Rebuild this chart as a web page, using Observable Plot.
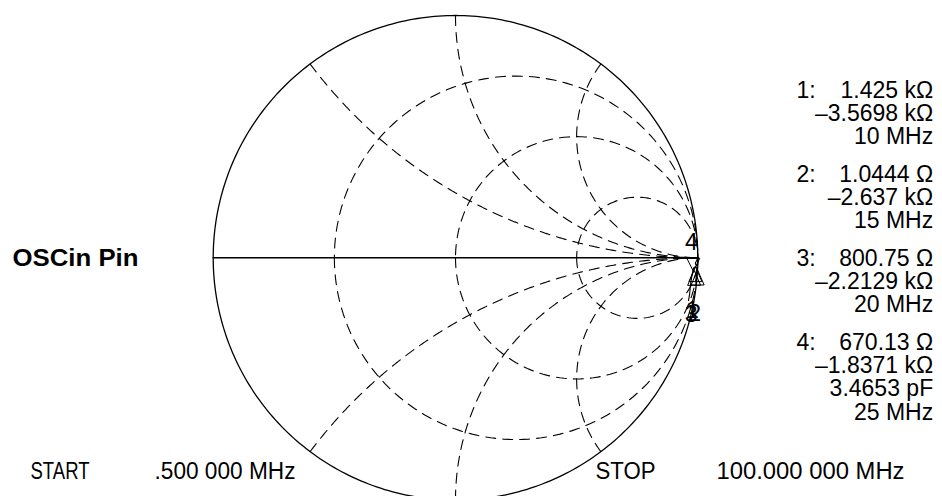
<!DOCTYPE html>
<html>
<head>
<meta charset="utf-8">
<script src="https://cdn.jsdelivr.net/npm/d3@7"></script>
<script src="https://cdn.jsdelivr.net/npm/@observablehq/plot@0.6"></script>
<style>
  html, body { margin: 0; padding: 0; background: #fff; }
  #chart svg { display: block; }
</style>
</head>
<body>
<div id="chart"></div>
<script>
// Reference impedance (Ω) used to normalise the Smith chart
const z0 = 50;

// Graticule: constant-resistance circles and constant-reactance arcs (normalised)
const resistanceCircles = [1 / 3, 1, 3];
const reactanceArcs = [0.5, 1, 2, -0.5, -1, -2];

// Swept input impedance of the pin, 0.5 MHz to 100 MHz (Ω)
const traceFreqMHz = [0.5, 2, 5, 10, 15, 20, 25, 40, 60, 80, 100];
const traceR = [30000, 9000, 2900, 1425, 1.0444, 800.75, 670.13, 330, 160, 95, 68];
const traceX = [-75000, -19000, -7400, -3569.8, -2637, -2212.9, -1837.1, -1180, -800, -640, -541];

// Marker readouts
const markerIds = [1, 2, 3, 4];
const markerFreqMHz = [10, 15, 20, 25];
const markerR = [1425, 1.0444, 800.75, 670.13];
const markerX = [-3569.8, -2637, -2212.9, -1837.1];
const markerCpF = [null, null, null, 3.4653];

// Annotation text
const title = "OSCin Pin";
const startLabel = "START";
const startValue = ".500 000 MHz";
const stopLabel = "STOP";
const stopValue = "100.000 000 MHz";

// ---- layout ----
const W = 942, H = 496;
const cx = 455, cy = 257.3, rad = 242.3;   // chart centre and radius in pixels
const font = "'Liberation Sans', Arial, Helvetica, sans-serif";

// reflection coefficient from an impedance in ohms
function gamma(R, X) {
  const r = R / z0, x = X / z0;
  const d = (r + 1) ** 2 + x ** 2;
  return [(r * r + x * x - 1) / d, (2 * x) / d];
}

// grid paths in the Γ plane
const grid = [];
resistanceCircles.forEach((r, i) => {
  const c = r / (1 + r), p = 1 / (1 + r);
  for (let a = 0; a <= 360; a += 2) {
    const t = Math.PI + (a * Math.PI) / 180;
    grid.push({id: "r" + i, u: c + p * Math.cos(t), v: p * Math.sin(t)});
  }
});
reactanceArcs.forEach((x, i) => {
  for (let k = 0; k < 300; k++) {
    const r = Math.tan((k / 300) * (Math.PI / 2));
    const [u, v] = gamma(r * z0, x * z0);
    grid.push({id: "x" + i, u, v});
  }
  grid.push({id: "x" + i, u: 1, v: 0});
});

const outer = d3.range(0, 361, 1).map(a => ({u: Math.cos(a * Math.PI / 180), v: Math.sin(a * Math.PI / 180)}));
const axisLine = [{u: -1, v: 0}, {u: 1, v: 0}];

const trace = traceFreqMHz.map((f, i) => {
  const [u, v] = gamma(traceR[i], traceX[i]);
  return {f, u, v};
});

const markers = markerIds.map((id, i) => {
  const [u, v] = gamma(markerR[i], markerX[i]);
  return {id, u, v};
});

// marker symbols: Δ hanging below the point, ∇ resting above it
const deltaUp = {draw(ctx) { ctx.moveTo(0, 3); ctx.lineTo(6.5, 18); ctx.lineTo(-6.5, 18); ctx.closePath(); }};
const deltaDown = {draw(ctx) { ctx.moveTo(0, 2); ctx.lineTo(6.5, -11); ctx.lineTo(-6.5, -11); ctx.closePath(); }};

// readout text
const fmt = d3.format(".5~g");
function ohms(v) {
  const a = Math.abs(v);
  const s = a >= 1000 ? fmt(a / 1000) + " kΩ" : fmt(a) + " Ω";
  return (v < 0 ? "–" : "") + s;
}
const readouts = markerIds.map((id, i) => {
  const lines = [ohms(markerR[i]), ohms(markerX[i])];
  if (markerCpF[i] != null) lines.push(fmt(markerCpF[i]) + " pF");
  lines.push(markerFreqMHz[i] + " MHz");
  return {id, lines};
});

const groupTop = 90, groupStep = 84, lineStep = 23.3;
const readoutMarks = [];
readouts.forEach((g, i) => {
  readoutMarks.push(Plot.text([g.id + ":"], {
    frameAnchor: "top-left", dx: 796, dy: groupTop + i * groupStep,
    lineAnchor: "middle", fontSize: 23, fill: "black"
  }));
  g.lines.forEach((line, j) => {
    readoutMarks.push(Plot.text([line], {
      frameAnchor: "top-right", dx: -9.3, dy: groupTop + i * groupStep + j * lineStep,
      lineAnchor: "middle", fontSize: 23, fill: "black"
    }));
  });
});

const footer = [
  {text: startLabel, left: 30, width: 59},
  {text: startValue, left: 154, width: 141},
  {text: stopLabel, left: 595, width: 60},
  {text: stopValue, left: 716, width: 188}
];
const footerMarks = footer.map(d => Plot.text([d.text], {
  frameAnchor: "top-left", dx: d.left, dy: 471.5, lineAnchor: "middle", fontSize: 23, fill: "black"
}));

const chart = Plot.plot({
  width: W,
  height: H,
  margin: 0,
  style: {fontFamily: font, background: "white", color: "black"},
  x: {domain: [-cx / rad, (W - cx) / rad], axis: null},
  y: {domain: [(cy - H) / rad, cy / rad], axis: null},
  marks: [
    Plot.line(grid, {x: "u", y: "v", z: "id", stroke: "black", strokeWidth: 1.1, strokeDasharray: "10,7"}),
    Plot.line(outer, {x: "u", y: "v", stroke: "black", strokeWidth: 1.3}),
    Plot.line(axisLine, {x: "u", y: "v", stroke: "black", strokeWidth: 1.5}),
    Plot.line(trace, {x: "u", y: "v", stroke: "black", strokeWidth: 1.1, curve: "catmull-rom"}),
    Plot.dot(markers.filter(d => d.id !== 4), {x: "u", y: "v", symbol: deltaUp, r: 5, fill: "none", stroke: "black", strokeWidth: 1}),
    Plot.dot(markers.filter(d => d.id === 4), {x: "u", y: "v", symbol: deltaDown, r: 5, fill: "none", stroke: "black", strokeWidth: 1}),
    Plot.text(markers.filter(d => d.id !== 4), {x: "u", y: "v", text: "id", dx: -3, dy: 47, fontSize: 23, fill: "black"}),
    Plot.text(markers.filter(d => d.id === 4), {x: "u", y: "v", text: "id", dx: -2, dy: -27, fontSize: 23, fill: "black"}),
    Plot.text([title], {
      frameAnchor: "top-left", dx: 12, dy: 258.3, lineAnchor: "middle",
      fontSize: 23, fontWeight: "bold", fill: "black"
    }),
    ...readoutMarks,
    ...footerMarks
  ]
});

// fit the title and footer strings to their set widths
const widths = new Map([[title, 126], ...footer.map(d => [d.text, d.width])]);
chart.querySelectorAll("text").forEach(t => {
  const w = widths.get(t.textContent);
  if (w) {
    t.setAttribute("textLength", w);
    t.setAttribute("lengthAdjust", "spacingAndGlyphs");
  }
});

document.getElementById("chart").append(chart);
</script>
</body>
</html>
